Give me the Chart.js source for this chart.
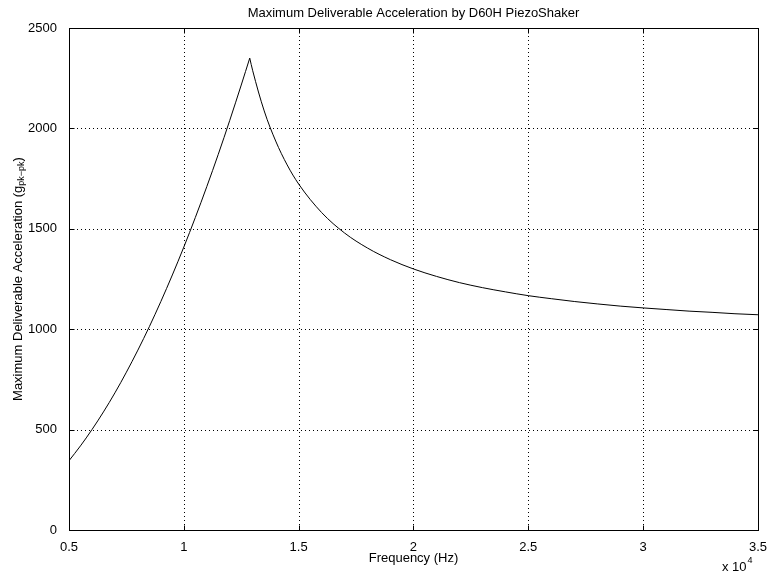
<!DOCTYPE html>
<html><head><meta charset="utf-8">
<script src="https://cdn.jsdelivr.net/npm/chart.js@4/dist/chart.umd.min.js"></script>
<style>html,body{margin:0;padding:0;background:#fff}#wrap{width:769px;height:575px}</style>
</head><body><div id="wrap"><canvas id="c" width="769" height="575"></canvas></div>
<script>
const titleText = 'Maximum Deliverable Acceleration by D60H PiezoShaker';
const xLabel = 'Frequency (Hz)';
const yLabelMain = 'Maximum Deliverable Acceleration (g';
const yLabelSub = 'pk\u2212pk';
const xExponentBase = 'x 10';
const xExponent = '4';
const xTicks = [5000, 10000, 15000, 20000, 25000, 30000, 35000];
const xTickLabels = ['0.5', '1', '1.5', '2', '2.5', '3', '3.5'];
const yTicks = [0, 500, 1000, 1500, 2000, 2500];

// rising branch (below resonance peak)
const freqRising  = [5000, 5500, 6000, 6500, 7000, 7500, 8000, 8500, 9000, 9500, 10000, 10500, 11000, 11500, 12000, 12500, 12870];
const accelRising = [345, 419, 500, 588, 683, 786, 896, 1013, 1138, 1270, 1409, 1556, 1710, 1871, 2040, 2216, 2350];
// falling branch (above resonance peak)
const freqFalling  = [12870, 13000, 13500, 14000, 14500, 15000, 16000, 17000, 18000, 19000, 20000, 21000, 22000, 23000, 24000, 25000, 26000, 27000, 28000, 29000, 30000, 31000, 32000, 33000, 34000, 35000];
const accelFalling = [2350, 2287, 2087, 1937, 1818, 1723, 1581, 1479, 1404, 1346, 1300, 1263, 1232, 1207, 1186, 1167, 1152, 1138, 1126, 1115, 1106, 1098, 1090, 1084, 1077, 1072];

const FONT = "'Liberation Sans', Arial, Helvetica, sans-serif";
const FS = 13;

const toPts = (xs, ys) => xs.map((x, i) => ({x: x, y: ys[i]}));

const framePlugin = {
  id: 'frame',
  beforeDatasetsDraw(chart) {
    const ctx = chart.ctx, a = chart.chartArea;
    const xs = chart.scales.x, ys = chart.scales.y;
    ctx.save();
    ctx.strokeStyle = '#000';
    ctx.lineWidth = 1;
    ctx.setLineDash([1, 3]);
    ctx.beginPath();
    xTicks.forEach(v => {
      const p = Math.round(xs.getPixelForValue(v)) + 0.5;
      if (p > a.left + 2 && p < a.right - 2) { ctx.moveTo(p, a.top); ctx.lineTo(p, a.bottom); }
    });
    yTicks.forEach(v => {
      const p = Math.round(ys.getPixelForValue(v)) + 0.5;
      if (p > a.top + 2 && p < a.bottom - 2) { ctx.moveTo(a.left, p); ctx.lineTo(a.right, p); }
    });
    ctx.stroke();
    ctx.restore();
  },
  afterDraw(chart) {
    const ctx = chart.ctx, a = chart.chartArea;
    const xs = chart.scales.x, ys = chart.scales.y;
    const L = Math.round(a.left) + 0.5, R = Math.round(a.right) + 0.5;
    const T = Math.round(a.top) + 0.5, B = Math.round(a.bottom) + 0.5;
    ctx.save();
    ctx.strokeStyle = '#000';
    ctx.lineWidth = 1;
    ctx.setLineDash([]);
    ctx.strokeRect(L, T, R - L, B - T);
    const tl = 5;
    ctx.beginPath();
    xTicks.forEach(v => {
      const p = Math.round(xs.getPixelForValue(v)) + 0.5;
      ctx.moveTo(p, B); ctx.lineTo(p, B - tl);
      ctx.moveTo(p, T); ctx.lineTo(p, T + tl);
    });
    yTicks.forEach(v => {
      const p = Math.round(ys.getPixelForValue(v)) + 0.5;
      ctx.moveTo(L, p); ctx.lineTo(L + tl, p);
      ctx.moveTo(R, p); ctx.lineTo(R - tl, p);
    });
    ctx.stroke();

    ctx.fillStyle = '#000';
    const cx = (a.left + a.right) / 2;
    ctx.font = FS + 'px ' + FONT;
    ctx.textAlign = 'center';
    ctx.textBaseline = 'middle';
    ctx.fillText(titleText, cx, 13);
    ctx.fillText(xLabel, cx, 558);
    ctx.textAlign = 'left';
    ctx.fillText(xExponentBase, 722, 567);
    const wBase = ctx.measureText(xExponentBase).width;
    ctx.font = '9px ' + FONT;
    ctx.fillText(xExponent, 722 + wBase + 1, 561);
    const cy = (a.top + a.bottom) / 2;
    ctx.font = FS + 'px ' + FONT;
    const w1 = ctx.measureText(yLabelMain).width;
    ctx.font = '9px ' + FONT;
    const w2 = ctx.measureText(yLabelSub).width;
    ctx.font = FS + 'px ' + FONT;
    const w3 = ctx.measureText(')').width;
    const total = w1 + w2 + w3;
    ctx.translate(18, cy);
    ctx.rotate(-Math.PI / 2);
    ctx.textAlign = 'left';
    ctx.textBaseline = 'middle';
    let x0 = -total / 2;
    ctx.fillText(yLabelMain, x0, 0);
    ctx.font = '9px ' + FONT;
    ctx.fillText(yLabelSub, x0 + w1, 4);
    ctx.font = FS + 'px ' + FONT;
    ctx.fillText(')', x0 + w1 + w2, 0);
    ctx.restore();
  }
};

new Chart(document.getElementById('c'), {
  type: 'scatter',
  data: {
    datasets: [
      { data: toPts(freqRising, accelRising), showLine: true, borderColor: '#000', borderWidth: 1, pointRadius: 0, cubicInterpolationMode: 'monotone', fill: false },
      { data: toPts(freqFalling, accelFalling), showLine: true, borderColor: '#000', borderWidth: 1, pointRadius: 0, cubicInterpolationMode: 'monotone', fill: false }
    ]
  },
  options: {
    responsive: false,
    animation: false,
    devicePixelRatio: 1,
    layout: { padding: { top: 28, right: 11, bottom: 0, left: 0 } },
    plugins: { legend: { display: false }, tooltip: { enabled: false }, title: { display: false } },
    scales: {
      x: {
        type: 'linear', min: 5000, max: 35000,
        afterBuildTicks: s => { s.ticks = xTicks.map(v => ({value: v})); },
        afterFit: s => { s.height = 45; },
        grid: { display: false }, border: { display: false },
        ticks: { color: '#000', font: { family: FONT, size: FS }, padding: 2, maxRotation: 0, autoSkip: false,
          callback: (v) => xTickLabels[xTicks.indexOf(v)] }
      },
      y: {
        type: 'linear', min: 0, max: 2500,
        afterBuildTicks: s => { s.ticks = yTicks.map(v => ({value: v})); },
        afterFit: s => { s.width = 69; },
        grid: { display: false }, border: { display: false },
        ticks: { color: '#000', font: { family: FONT, size: FS }, padding: 4,
          callback: (v) => String(v) }
      }
    }
  },
  plugins: [framePlugin]
});
</script>
</body></html>
